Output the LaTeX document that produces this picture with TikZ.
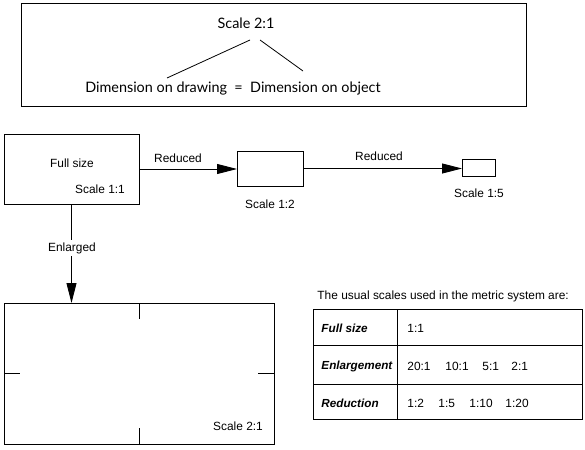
\documentclass[tikz,border=0pt]{standalone}
\usepackage{fontspec}
\setmainfont{Liberation Sans}
\newfontfamily\topfont{Lato}
\usetikzlibrary{arrows.meta}
\begin{document}
\begin{tikzpicture}[x=1pt,y=-1pt,line width=0.9pt,
  box/.style={draw,inner sep=0pt,outer sep=0pt},
  lbl/.style={inner sep=0pt,font=\fontsize{11.9}{13}\selectfont},
  toplbl/.style={inner sep=0pt,font=\topfont\fontsize{14.4}{16}\selectfont},
  bi/.style={lbl,anchor=west,font=\fontsize{11.7}{13}\selectfont\bfseries\itshape},
  cell/.style={lbl,anchor=west},
  tip/.style={-{Triangle[length=20pt,width=10pt]}}]
\useasboundingbox (0,0) rectangle (585,449);
% top box
\node[box,minimum width=505pt,minimum height=103pt] (top) at (273.5,54.5) {};
\node[toplbl] (scale) at (246,23) {Scale 2:1};
\node[toplbl] (eq) at (233,89) {Dimension on drawing \ = \ Dimension on object};
\coordinate (l1) at (250,40); \coordinate (l2) at (167,78);
\coordinate (r1) at (260,40); \coordinate (r2) at (303,71);
\draw[line width=0.8pt] (l1) -- (l2);
\draw[line width=0.8pt] (r1) -- (r2);
% scale boxes
\node[box,minimum width=135pt,minimum height=70pt] (full) at (71.5,169) {};
\node[lbl] (fulltxt) at (72,163) {Full size};
\node[lbl] (s11) at (100,189) {Scale 1:1};
\node[box,minimum width=66pt,minimum height=35pt] (half) at (270,168.5) {};
\node[lbl] (s12) at (270,204) {Scale 1:2};
\node[box,minimum width=33pt,minimum height=17pt] (fifth) at (478.5,168) {};
\node[lbl] (s15) at (479,193) {Scale 1:5};
\draw[tip] (full.east) -- (full.east -| half.west);
\node[lbl] (red1) at (178,158) {Reduced};
\draw[tip] (half.east) -- (half.east -| fifth.west);
\node[lbl] (red2) at (379,156) {Reduced};
% enlarged
\node[box,minimum width=270pt,minimum height=141pt] (big) at (139,373.5) {};
\draw[tip] (full.south) -- (full.south |- big.north);
\node[lbl,fill=white,inner sep=2pt] (enl) at (72,248) {Enlarged};
\draw (big.north) -- ++(0,16);
\draw (big.south) -- ++(0,-16);
\draw (big.west) -- ++(16,0);
\draw (big.east) -- ++(-16,0);
\node[lbl] (s21) at (238,426) {Scale 2:1};
% table
\node[lbl,anchor=west] (title) at (317,296) {The usual scales used in the metric system are:};
\node[box,minimum width=269pt,minimum height=110pt] (tab) at (447.5,364) {};
\coordinate (c1) at (397,309); \coordinate (c2) at (397,419);
\coordinate (h1) at (313,345); \coordinate (h2) at (582,345);
\coordinate (k1) at (313,384); \coordinate (k2) at (582,384);
\draw (c1) -- (c2); \draw (h1) -- (h2); \draw (k1) -- (k2);
\node[bi] (t1) at (321,328) {Full size};
\node[bi] (t2) at (321,366) {Enlargement};
\node[bi] (t3) at (321,403) {Reduction};
\node[cell] (a1) at (407,328) {1:1};
\node[cell] (b1) at (407,366) {20:1};
\node[cell] (b2) at (445,366) {10:1};
\node[cell] (b3) at (482,366) {5:1};
\node[cell] (b4) at (511,366) {2:1};
\node[cell] (d1) at (407,403) {1:2};
\node[cell] (d2) at (438,403) {1:5};
\node[cell] (d3) at (469,403) {1:10};
\node[cell] (d4) at (505,403) {1:20};
\end{tikzpicture}
\end{document}
